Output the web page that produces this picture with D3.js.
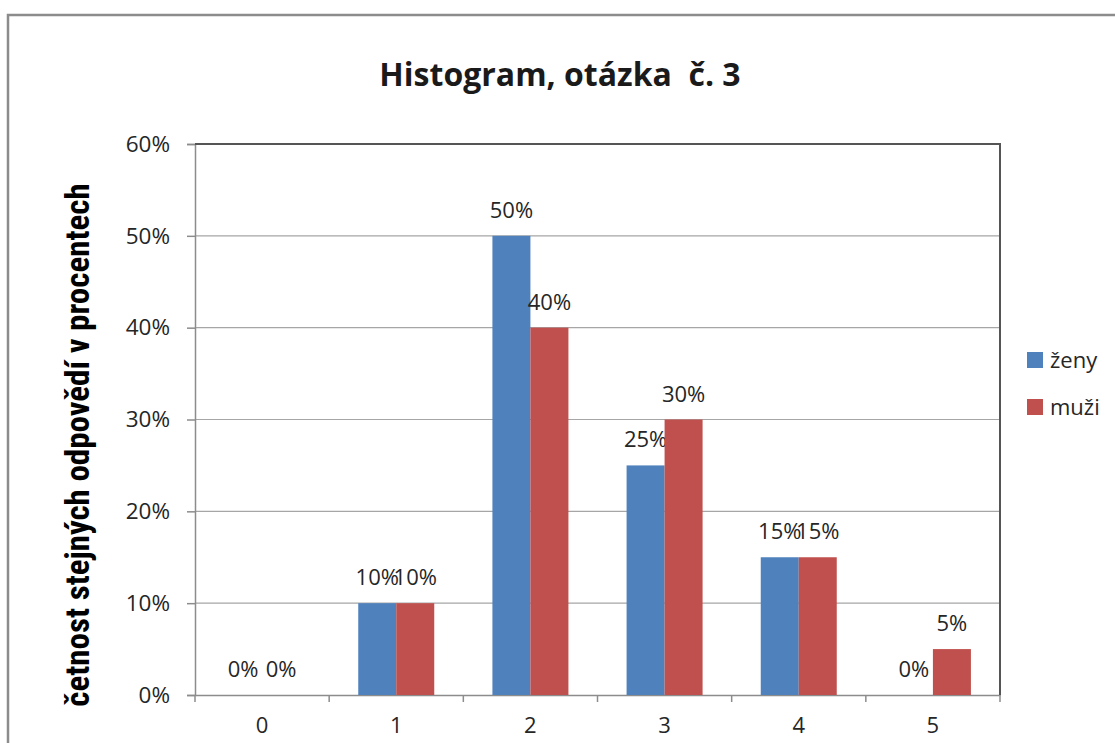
<!DOCTYPE html>
<html><head><meta charset="utf-8">
<script src="https://cdn.jsdelivr.net/npm/d3@7"></script>
<style>
body{margin:0;background:#fff;}
svg{display:block;}
</style></head>
<body>
<svg id="c" width="1115" height="743"></svg>
<script>
const categories = ["0","1","2","3","4","5"];
const zeny = [0, 10, 50, 25, 15, 0];
const muzi = [0, 10, 40, 30, 15, 5];
const seriesNames = ["ženy","muži"];
const yTicks = [0,10,20,30,40,50,60];
const colors = ["#4F81BD","#C0504D"];

const svg = d3.select("#c");
const font = "'Open Sans', 'Noto Sans', sans-serif";

// outer chart border
svg.append("rect").attr("x",8).attr("y",15).attr("width",1120).attr("height",760)
  .attr("fill","#fff").attr("stroke","#8c8c8c").attr("stroke-width",2.5);

const L=195, R=1000, T=144, B=695;
const x = d3.scaleBand().domain(categories).range([L,R]).padding(0);
const y = d3.scaleLinear().domain([0,60]).range([B,T]);
const barW = 38;
const sub = d3.scaleBand().domain(seriesNames).range([0, barW*2]);

// gridlines
svg.append("g").selectAll("line").data(yTicks.filter(t=>t>0&&t<60)).join("line")
  .attr("x1",L).attr("x2",R).attr("y1",d=>y(d)).attr("y2",d=>y(d))
  .attr("stroke","#a6a6a6").attr("stroke-width",1.2);

// y axis
const yAxis = d3.axisLeft(y).tickValues(yTicks).tickFormat(d=>d+"%").tickSize(8).tickPadding(17);
const gy = svg.append("g").attr("transform",`translate(${L},0)`).call(yAxis);
gy.select(".domain").attr("stroke","#8c8c8c").attr("stroke-width",1.5);
gy.selectAll(".tick line").attr("stroke","#8c8c8c").attr("stroke-width",1.5);
gy.selectAll("text").attr("font-family",font).attr("font-size",22.5).attr("fill","#262626");

// x axis
const xAxis = d3.axisBottom(x).tickSize(0).tickPadding(22);
const gx = svg.append("g").attr("transform",`translate(0,${B})`).call(xAxis);
gx.select(".domain").attr("stroke","#8c8c8c").attr("stroke-width",1.5);
gx.selectAll("text").attr("font-family",font).attr("font-size",22).attr("fill","#262626");
// x ticks at band boundaries
svg.append("g").selectAll("line").data(categories.concat(["end"])).join("line")
  .attr("x1",(d,i)=>L + i*x.bandwidth()).attr("x2",(d,i)=>L + i*x.bandwidth())
  .attr("y1",B).attr("y2",B+7).attr("stroke","#8c8c8c").attr("stroke-width",1.5);

// plot top/right border
svg.append("path").attr("d",`M${L},${T}H${R}V${B}`).attr("fill","none")
  .attr("stroke","#555").attr("stroke-width",2);

const data = categories.map((c,i)=>({c, vals:[zeny[i], muzi[i]]}));
const groupOff = (x.bandwidth()-barW*2)/2;

const g = svg.append("g");
data.forEach(d=>{
  d.vals.forEach((v,j)=>{
    const bx = x(d.c)+groupOff+sub(seriesNames[j]);
    g.append("rect").attr("x",bx).attr("y",y(v)).attr("width",barW).attr("height",B-y(v))
      .attr("fill",colors[j]);
    g.append("text").attr("x",bx+barW/2).attr("y",y(v)-18)
      .attr("text-anchor","middle").attr("font-family",font).attr("font-size",22)
      .attr("fill","#262626").text(v+"%");
  });
});

// title
svg.append("text").attr("x",560).attr("y",86).attr("text-anchor","middle")
  .attr("font-family",font).attr("font-weight","bold").attr("font-size",32)
  .attr("fill","#1a1a1a").text("Histogram, otázka  č. 3").style("white-space","pre");

// y axis title
svg.append("text").attr("transform","translate(89,445) rotate(-90)").attr("text-anchor","middle")
  .attr("font-family","'Liberation Sans Narrow','Arial Narrow','Roboto Condensed',sans-serif")
  .attr("font-weight","bold").attr("font-size",33).attr("fill","#000")
  .text("četnost stejných odpovědí v procentech");

// legend
const lg = svg.append("g");
seriesNames.forEach((n,i)=>{
  const yy = 352 + i*47;
  lg.append("rect").attr("x",1027).attr("y",yy).attr("width",16).attr("height",16).attr("fill",colors[i]);
  lg.append("text").attr("x",1050).attr("y",yy+16).attr("font-family",font).attr("font-size",22)
    .attr("fill","#262626").text(n);
});
</script>
</body></html>
